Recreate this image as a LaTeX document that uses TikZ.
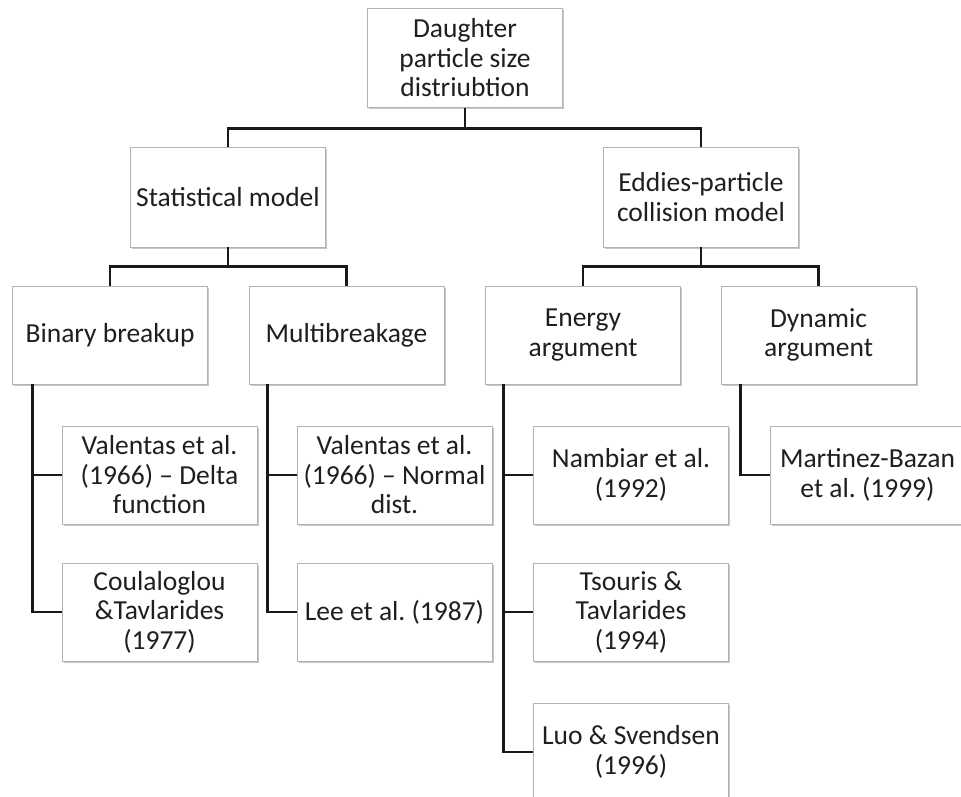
\documentclass[tikz,border=0pt]{standalone}
\usepackage{fontspec}
\setmainfont{Carlito}
\frenchspacing
\usetikzlibrary{shadows}
\tikzset{
  box/.style={draw=black!30, line width=0.8pt, fill=white, align=center,
    minimum width=195pt, minimum height=99pt, inner sep=1pt,
    text=black!88,
    font=\fontsize{27.5}{29.5}\selectfont,
    drop shadow={shadow xshift=1.5pt, shadow yshift=-1.8pt, fill=black, opacity=0.22}},
  conn/.style={line width=2.8pt, black!90}
}
\begin{document}
\begin{tikzpicture}[x=1pt,y=-1pt]
\useasboundingbox (0,0) rectangle (961,797);
% level 0
\node[box] (top) at (465,58) {Daughter\\particle size\\distriubtion};
% level 1
\node[box, minimum height=100pt] (stat) at (228,197) {Statistical model};
\node[box, minimum height=100pt] (eddy) at (701,197) {Eddies-particle\\collision model};
% level 2
\node[box, minimum height=98pt] (bin) at (110,335) {Binary breakup};
\node[box, minimum height=98pt] (multi) at (346.5,335) {Multibreakage};
\node[box, minimum height=98pt] (energy) at (583,335) {Energy\\argument};
\node[box, minimum height=98pt] (dyn) at (818.5,335) {Dynamic\\argument};
% leaves
\node[box, minimum height=98pt] (b1) at (159.5,475) {Valentas et al.\\(1966) -- Delta\\function};
\node[box, minimum height=98pt] (b2) at (159.5,612) {Coulaloglou\\\&Tavlarides\\(1977)};
\node[box, minimum height=98pt] (m1) at (394.5,475) {Valentas et al.\\(1966) -- Normal\\dist.};
\node[box, minimum height=98pt] (m2) at (394.5,612) {Lee et al. (1987)};
\node[box, minimum height=98pt] (e1) at (631,475) {Nambiar et al.\\(1992)};
\node[box, minimum height=98pt] (e2) at (631,612) {Tsouris \&\\Tavlarides\\(1994)};
\node[box, minimum height=98pt] (e3) at (631,752) {Luo \& Svendsen\\(1996)};
\node[box, minimum height=98pt] (d1) at (867.5,475) {Martinez-Bazan\\et al. (1999)};
% connectors
\draw[conn] (top.south) -- ++(0,20.5) -| (stat.north);
\draw[conn] (top.south) -- ++(0,20.5) -| (eddy.north);
\draw[conn] (stat.south) -- ++(0,19) -| (bin.north);
\draw[conn] (stat.south) -- ++(0,19) -| (multi.north);
\draw[conn] (eddy.south) -- ++(0,19) -| (energy.north);
\draw[conn] (eddy.south) -- ++(0,19) -| (dyn.north);
\draw[conn] ([xshift=20pt]bin.south west) |- (b2.west);
\draw[conn] ([xshift=20pt]bin.south west) |- (b1.west);
\draw[conn] ([xshift=19pt]multi.south west) |- (m2.west);
\draw[conn] ([xshift=19pt]multi.south west) |- (m1.west);
\draw[conn] ([xshift=18pt]energy.south west) |- (e3.west);
\draw[conn] ([xshift=18pt]energy.south west) |- (e2.west);
\draw[conn] ([xshift=18pt]energy.south west) |- (e1.west);
\draw[conn] ([xshift=20pt]dyn.south west) |- (d1.west);
\end{tikzpicture}
\end{document}
